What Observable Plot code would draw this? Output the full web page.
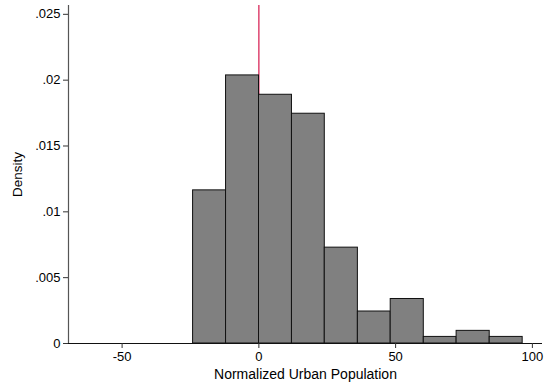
<!DOCTYPE html>
<html>
<head>
<meta charset="utf-8">
<script src="https://cdn.jsdelivr.net/npm/d3@7"></script>
<script src="https://cdn.jsdelivr.net/npm/@observablehq/plot@0.6"></script>
<style>
  html, body { margin: 0; padding: 0; background: #fff; }
  #chart { width: 548px; height: 385px; }
  svg { font-family: "Liberation Sans", Arial, Helvetica, sans-serif; }
</style>
</head>
<body>
<div id="chart"></div>
<script>
// Histogram bins (left edge, right edge) and density heights
const binLeft  = [-24.05, -12.0, 0.05, 12.1, 24.1, 36.2, 48.2, 60.3, 72.3, 84.4];
const binRight = [-12.0, 0.05, 12.1, 24.1, 36.2, 48.2, 60.3, 72.3, 84.4, 96.45];
const density  = [0.01163, 0.02036, 0.01889, 0.01745, 0.00728, 0.00243, 0.00338, 0.0005, 0.00096, 0.0005];
const xTicks = [-50, 0, 50, 100];
const yTicks = [0, 0.005, 0.01, 0.015, 0.02, 0.025];
const refLine = [0];

const xDomain = [-69.6, 103.7];
const yDomain = [0, 0.02567];

const bins = binLeft.map((l, i) => ({x1: l, x2: binRight[i], y: density[i]}));
const fmtY = d => d === 0 ? "0" : String(d).replace(/^0/, "");
const fmtX = d => String(d);

const chart = Plot.plot({
  width: 548,
  height: 385,
  marginLeft: 68,
  marginRight: 6,
  marginTop: 5,
  marginBottom: 42,
  style: {fontFamily: '"Liberation Sans", Arial, Helvetica, sans-serif', fontSize: "13px", color: "#000", background: "#fff"},
  x: {domain: xDomain},
  y: {domain: yDomain},
  marks: [
    Plot.ruleX(refLine, {x: d => d, y1: yDomain[0], y2: yDomain[1], stroke: "#d9285a", strokeWidth: 1.3}),
    Plot.rectY(bins, {x1: "x1", x2: "x2", y: "y", fill: "#808080", stroke: "#111", strokeWidth: 1, inset: 0}),
    Plot.ruleX([xDomain[0]], {y1: yDomain[0], y2: yDomain[1], stroke: "#555", strokeWidth: 1.2}),
    Plot.ruleY([0], {x1: xDomain[0], x2: xDomain[1], stroke: "#111", strokeWidth: 1.2}),
    Plot.axisX({ticks: xTicks, tickFormat: fmtX, tickSize: 5, tickPadding: 3, fontSize: 13, label: null, stroke: "#333"}),
    Plot.axisX({ticks: [], label: "Normalized Urban Population", labelAnchor: "center", labelArrow: "none", labelOffset: 35, fontSize: 14}),
    Plot.axisY({ticks: yTicks, tickFormat: fmtY, tickSize: 5, tickPadding: 3, fontSize: 13, label: null, stroke: "#333"}),
    Plot.axisY({ticks: [], label: "Density", labelAnchor: "center", labelArrow: "none", labelOffset: 56, fontSize: 13.5})
  ]
});
document.getElementById("chart").appendChild(chart);
</script>
</body>
</html>
